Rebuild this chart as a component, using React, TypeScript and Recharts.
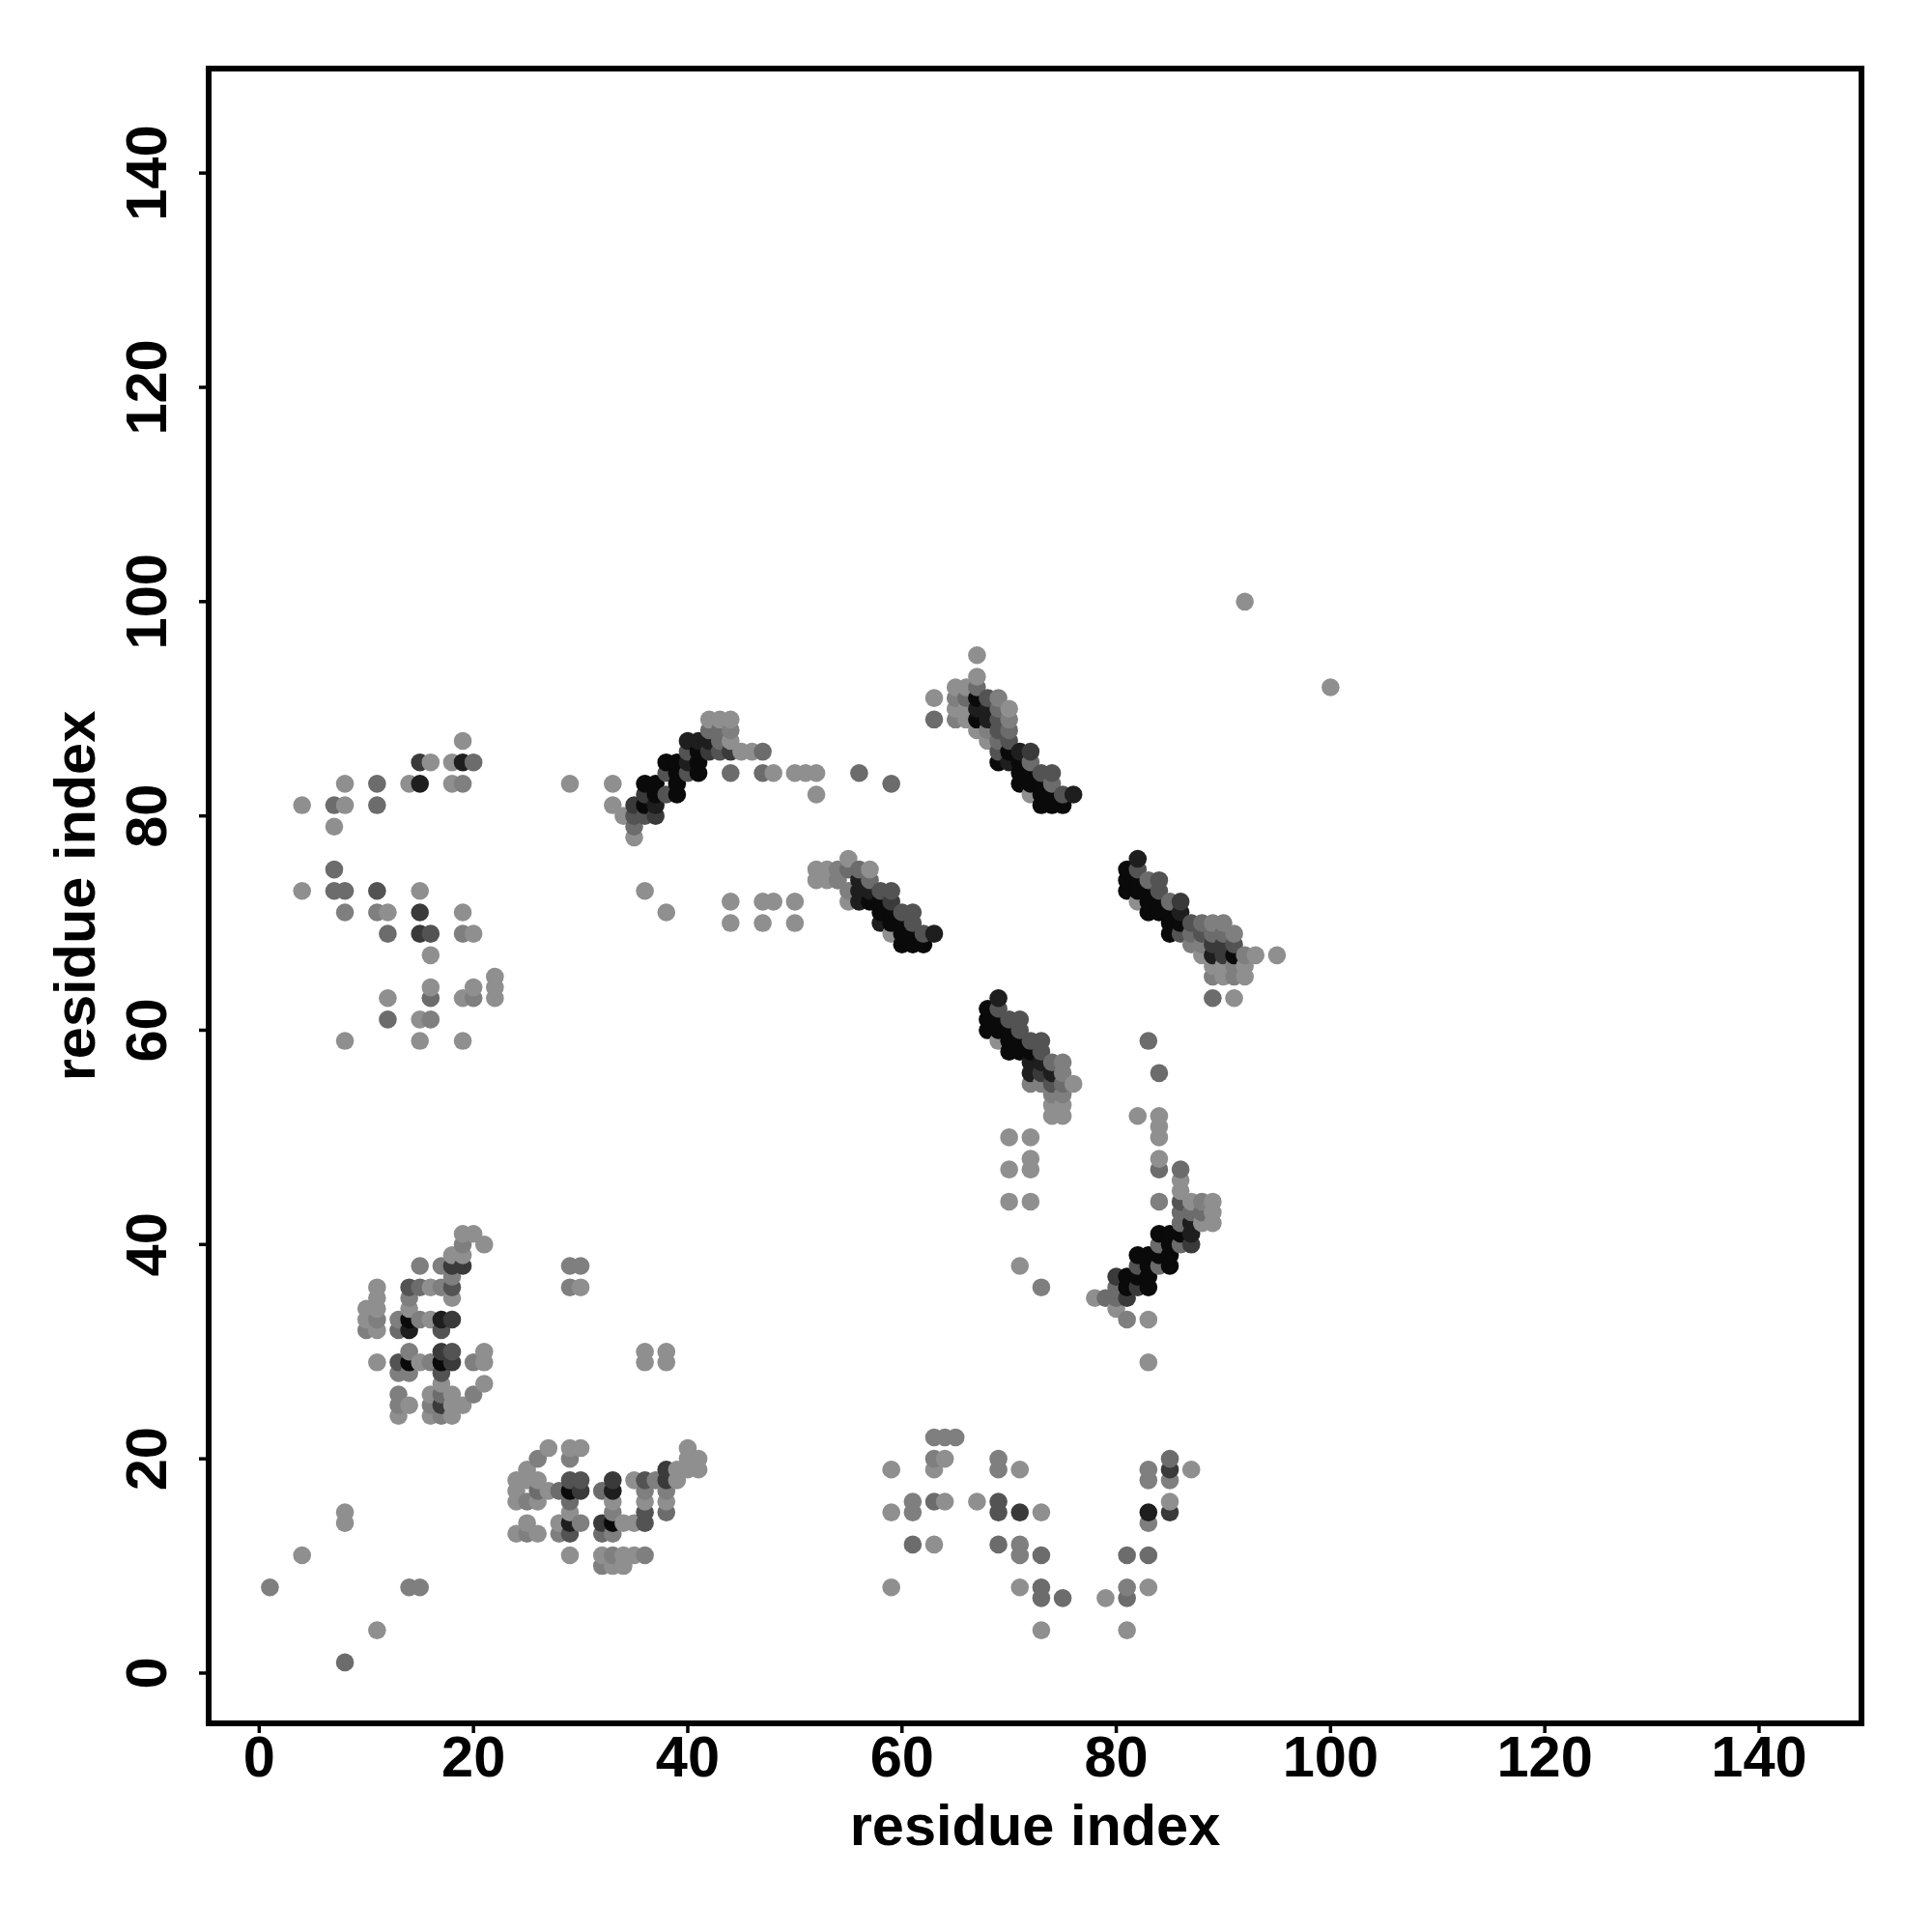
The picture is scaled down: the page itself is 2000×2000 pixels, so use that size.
import { ReferenceArea, Scatter, ScatterChart, XAxis, YAxis } from "recharts";

type Pair = [number, number];

const AXIS_TICKS = [0, 20, 40, 60, 80, 100, 120, 140];
const AXIS_LABEL = "residue index";

// each list holds [residue x, residue y] contacts of one grey level, given as rows
const row = (y: number, xs: number[]): Pair[] => xs.map((x) => [x, y] as Pair);

const shade1: Pair[] = [
  ...row(100, [92]), ...row(95, [67]), ...row(93, [67]), ...row(92, [65, 66, 100]),
  ...row(91, [63]), ...row(90, [65, 66, 70]), ...row(89, [42, 43, 44, 66]), ...row(88, [67]),
  ...row(87, [19, 44, 68]), ...row(86, [45, 46]), ...row(85, [16, 18]),
  ...row(84, [48, 50, 51, 52]), ...row(83, [8, 14, 18, 29, 33]), ...row(82, [52, 72]),
  ...row(81, [4, 8, 33]), ...row(80, [34]), ...row(79, [7]), ...row(78, [35]),
  ...row(76, [55]), ...row(75, [52, 53, 57]), ...row(74, [52, 53, 54]),
  ...row(73, [4, 15, 36]), ...row(72, [44, 47, 48, 50, 55, 82]), ...row(71, [12, 19, 38]),
  ...row(70, [44, 47, 50]), ...row(69, [20, 59]), ...row(67, [16, 88, 93, 95]),
  ...row(66, [89, 90, 92]), ...row(65, [22, 90, 92]), ...row(64, [16, 20, 22]),
  ...row(63, [12, 19, 22, 91]), ...row(61, [15]), ...row(59, [8, 15, 19, 69]),
  ...row(55, [76]), ...row(53, [74, 75]), ...row(52, [74, 75, 82, 84]), ...row(51, [84]),
  ...row(50, [70, 72, 84]), ...row(48, [72, 84]), ...row(47, [70, 72]), ...row(46, [86]),
  ...row(45, [86]), ...row(44, [70, 72, 87, 89]), ...row(43, [89]), ...row(42, [88, 89]),
  ...row(41, [19, 20]), ...row(40, [21]), ...row(39, [18, 19]), ...row(38, [71]),
  ...row(36, [11, 16, 30]), ...row(35, [11, 18, 78]), ...row(34, [10, 11, 14, 80]),
  ...row(33, [10, 16, 83]), ...row(32, [11]), ...row(30, [21, 36, 38]),
  ...row(29, [11, 15, 21, 36, 38, 83]), ...row(27, [17, 21]), ...row(26, [16, 18]),
  ...row(25, [14, 18, 19]), ...row(24, [13, 16, 18]), ...row(21, [27, 29, 30, 40]),
  ...row(20, [40, 41, 64]), ...row(19, [25, 39, 40, 41, 59, 63, 71, 87]),
  ...row(18, [24, 25, 26, 35, 39]), ...row(17, [24, 27]), ...row(16, [24, 26, 33, 36, 38, 64, 67, 85]),
  ...row(15, [8, 29, 59, 73]), ...row(14, [8, 25, 28, 34, 35]), ...row(13, [24, 26]),
  ...row(12, [63]), ...row(11, [4, 29, 32, 34, 35]), ...row(10, [33, 34]),
  ...row(8, [59, 71, 83]), ...row(7, [79]), ...row(4, [11, 73, 81]),
];

const shade2: Pair[] = [
  ...row(91, [65, 69]), ...row(89, [65, 70]), ...row(88, [44, 68]), ...row(83, [19]),
  ...row(75, [54]), ...row(74, [54]), ...row(73, [55]), ...row(71, [8, 11]),
  ...row(70, [89, 90]), ...row(69, [19, 91]), ...row(68, [87, 88]), ...row(67, [92]),
  ...row(66, [91]), ...row(65, [89, 91]), ...row(63, [20]), ...row(61, [16]),
  ...row(57, [75]), ...row(56, [75]), ...row(55, [72, 73]), ...row(54, [74, 75]),
  ...row(44, [84, 88]), ...row(40, [19]), ...row(38, [15, 17, 29, 30]), ...row(37, [18]),
  ...row(36, [17, 29, 73]), ...row(35, [14]), ...row(33, [11, 13, 15, 81]), ...row(32, [10]),
  ...row(30, [14]), ...row(29, [16, 20]), ...row(28, [13, 14]), ...row(26, [13, 20]),
  ...row(25, [13, 16]), ...row(24, [17]), ...row(22, [63, 64, 65]), ...row(20, [26, 29, 63, 69]),
  ...row(19, [69, 83]), ...row(18, [37, 83, 85]), ...row(17, [36, 38]), ...row(16, [25, 61]),
  ...row(15, [33, 61]), ...row(14, [30, 83]), ...row(13, [25, 28, 33]), ...row(12, [71]),
  ...row(11, [33, 36, 71]), ...row(10, [32]), ...row(8, [1, 14, 15, 81]),
];

const shade3: Pair[] = [
  ...row(92, [67]), ...row(91, [66]), ...row(90, [69]), ...row(89, [63]), ...row(88, [42, 43, 70]),
  ...row(87, [43, 69]), ...row(86, [47]), ...row(85, [20, 72]), ...row(84, [44, 47, 56]),
  ...row(83, [11, 59, 74]), ...row(81, [7, 11]), ...row(79, [35]), ...row(75, [7, 55, 56]),
  ...row(74, [57, 83]), ...row(73, [7, 8]), ...row(72, [85]), ...row(70, [88]),
  ...row(69, [12, 87, 89, 90]), ...row(63, [16, 89]), ...row(61, [12]), ...row(59, [83]),
  ...row(57, [74]), ...row(56, [84]), ...row(55, [75]), ...row(47, [84, 86]),
  ...row(43, [86, 87, 88]), ...row(42, [86]), ...row(40, [84, 86]), ...row(38, [84]),
  ...row(36, [15, 80]), ...row(35, [79, 80]), ...row(32, [13]), ...row(26, [17]),
  ...row(20, [85]), ...row(17, [26, 28, 32]), ...row(16, [29, 63]), ...row(15, [38]), ...row(13, [32]),
  ...row(12, [61, 69]), ...row(11, [73, 81, 83]), ...row(8, [73]), ...row(7, [73, 75, 81]),
  ...row(1, [8]),
];

const shade4: Pair[] = [
  ...row(91, [68]), ...row(89, [69]), ...row(88, [69]), ...row(87, [70]), ...row(86, [40, 43, 69]),
  ...row(84, [38, 40, 73, 74]), ...row(82, [38, 75]), ...row(80, [35, 36]), ...row(75, [82]),
  ...row(74, [84]), ...row(73, [11, 58, 59, 84]), ...row(71, [60, 61]), ...row(70, [61, 87]),
  ...row(69, [16, 62, 86, 88]), ...row(68, [91]), ...row(62, [69]), ...row(61, [70, 71]),
  ...row(60, [71]), ...row(59, [72, 73]), ...row(58, [73]), ...row(55, [74]), ...row(44, [86]),
  ...row(38, [82]), ...row(36, [14, 18]), ...row(32, [17]), ...row(30, [18]), ...row(29, [13]),
  ...row(28, [17]), ...row(18, [29, 30, 36]), ...row(16, [69]), ...row(15, [36, 69]),
  ...row(14, [36]), ...row(13, [29]),
];

const shade5: Pair[] = [
  ...row(86, [42, 44, 72]), ...row(85, [15]), ...row(82, [36]), ...row(81, [35]), ...row(80, [37]),
  ...row(72, [59, 86]), ...row(71, [15]), ...row(69, [15]), ...row(68, [89, 90]), ...row(67, [90]),
  ...row(56, [73]), ...row(40, [87]), ...row(38, [18, 19]), ...row(37, [80]), ...row(36, [82]),
  ...row(35, [81]), ...row(33, [18]), ...row(30, [17]), ...row(29, [18]), ...row(25, [17]),
  ...row(19, [38, 85]), ...row(18, [33, 38]), ...row(17, [30]), ...row(15, [71, 85]), ...row(14, [32]),
];

const shade6: Pair[] = [
  ...row(90, [67, 68]), ...row(89, [68]), ...row(87, [40, 41, 42]), ...row(86, [71]),
  ...row(85, [19, 40, 70]), ...row(83, [15]), ...row(82, [76]), ...row(81, [37]),
  ...row(76, [82]), ...row(74, [56]), ...row(73, [56, 57]), ...row(72, [56]), ...row(71, [86]),
  ...row(70, [58]), ...row(69, [63]), ...row(67, [89]), ...row(63, [69]), ...row(57, [72, 73]),
  ...row(56, [72, 74]), ...row(42, [87]), ...row(41, [87]), ...row(33, [17]), ...row(32, [14]),
  ...row(17, [33]), ...row(15, [83]), ...row(14, [29]),
];

const shade7: Pair[] = [
  ...row(91, [67]), ...row(89, [67]), ...row(86, [41, 70]), ...row(85, [38, 39, 41, 69, 71]),
  ...row(84, [39, 41, 71, 72]), ...row(83, [36, 37, 39, 71, 72, 73]), ...row(82, [37, 39, 73, 74]),
  ...row(81, [36, 73, 74, 75]), ...row(75, [81]), ...row(74, [81, 82]), ...row(73, [81, 82, 83]),
  ...row(72, [57, 58, 83, 84]), ...row(71, [58, 59, 83, 84, 85]), ...row(70, [59, 60, 85, 86]),
  ...row(69, [60, 61, 85]), ...row(68, [60, 61, 62]), ...row(67, [91]), ...row(62, [68]),
  ...row(61, [68, 69]), ...row(60, [68, 69, 70]), ...row(59, [70, 71]), ...row(58, [70, 71, 72]),
  ...row(41, [84, 85, 86]), ...row(40, [85]), ...row(39, [82, 83, 84, 85]), ...row(38, [83, 85]),
  ...row(37, [81, 82, 83]), ...row(36, [81, 83]), ...row(33, [14]), ...row(29, [14, 17]),
  ...row(17, [29]), ...row(14, [33]),
];

const SHADES: [Pair[], string][] = [
  [shade1, "#8f8f8f"],
  [shade2, "#7f7f7f"],
  [shade3, "#6c6c6c"],
  [shade4, "#535353"],
  [shade5, "#3a3a3a"],
  [shade6, "#1e1e1e"],
  [shade7, "#0a0a0a"],
];

// drawn in residue order so later contacts overlap earlier ones
const points = SHADES.flatMap(([pairs, fill]) =>
  pairs.map(([x, y]) => ({ x, y, fill }))
).sort((a, b) => a.x - b.x || a.y - b.y);

const FONT = "'Liberation Sans', Arial, sans-serif";
const FONT_SIZE = 59.5;
const X_DOMAIN = [-4.72, 149.56];
const Y_DOMAIN = [-4.69, 149.75];

function XTick({ x, y, payload }: any) {
  return (
    <text x={x} y={y + 43} textAnchor="middle" fontFamily={FONT} fontWeight="bold" fontSize={FONT_SIZE} fill="#000">
      {payload.value}
    </text>
  );
}

function YTick({ x, y, payload }: any) {
  return (
    <text
      x={0}
      y={0}
      transform={`translate(${x - 32} ${y}) rotate(-90)`}
      textAnchor="middle"
      fontFamily={FONT}
      fontWeight="bold"
      fontSize={FONT_SIZE}
      fill="#000"
    >
      {payload.value}
    </text>
  );
}

function ContactDot({ cx, cy, payload }: any) {
  return <circle cx={cx} cy={cy} r={9.3} fill={payload.fill} />;
}

export default function App() {
  return (
    <div style={{ position: "absolute", left: 0, top: 0, width: 2000, height: 2000, background: "#fff" }}>
      <ScatterChart width={2000} height={2000} margin={{ top: 71, right: 73, bottom: 0, left: 0 }}>
        <XAxis
          type="number"
          dataKey="x"
          domain={X_DOMAIN}
          ticks={AXIS_TICKS}
          allowDataOverflow
          height={216}
          axisLine={false}
          tickSize={10}
          tickLine={{ stroke: "#000", strokeWidth: 3.5 }}
          tick={<XTick />}
          interval={0}
          label={{
            value: AXIS_LABEL,
            position: "insideBottom",
            offset: 90,
            fontFamily: FONT,
            fontWeight: "bold",
            fontSize: FONT_SIZE,
            fill: "#000",
          }}
        />
        <YAxis
          type="number"
          dataKey="y"
          domain={Y_DOMAIN}
          ticks={AXIS_TICKS}
          allowDataOverflow
          width={216}
          axisLine={false}
          tickSize={10}
          tickLine={{ stroke: "#000", strokeWidth: 3.5 }}
          tick={<YTick />}
          interval={0}
          label={{
            value: AXIS_LABEL,
            angle: -90,
            position: "center",
            dx: -31,
            fontFamily: FONT,
            fontWeight: "bold",
            fontSize: FONT_SIZE,
            fill: "#000",
          }}
        />
        <Scatter data={points} isAnimationActive={false} shape={<ContactDot />} />
        <ReferenceArea
          x1={X_DOMAIN[0]}
          x2={X_DOMAIN[1]}
          y1={Y_DOMAIN[0]}
          y2={Y_DOMAIN[1]}
          fill="none"
          stroke="#000"
          strokeWidth={6}
        />
      </ScatterChart>
    </div>
  );
}
